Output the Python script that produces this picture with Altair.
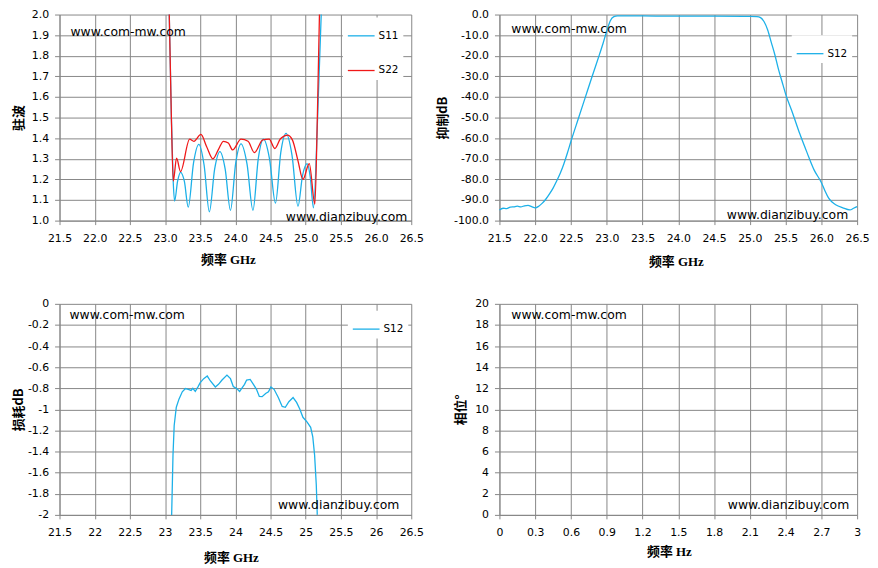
import altair as alt
import pandas as pd

# ---------------- data ----------------
# VSWR (top-left)
s11_freq = [23.06, 23.09, 23.115, 23.136, 23.178, 23.22, 23.275, 23.33, 23.405, 23.48,
            23.555, 23.63, 23.705, 23.78, 23.855, 23.93, 24.005, 24.08, 24.165, 24.25,
            24.325, 24.40, 24.485, 24.57, 24.645, 24.72, 24.805, 24.89, 24.955, 25.02,
            25.065, 25.11, 25.17, 25.22]
s11_vswr = [2.0, 1.5, 1.2, 1.095, 1.19, 1.234, 1.19, 1.065, 1.28, 1.37,
            1.27, 1.043, 1.25, 1.335, 1.25, 1.05, 1.28, 1.372, 1.275, 1.05,
            1.30, 1.395, 1.30, 1.085, 1.33, 1.423, 1.317, 1.07, 1.22, 1.277,
            1.21, 1.062, 1.51, 2.0]
s22_freq = [23.06, 23.09, 23.117, 23.164, 23.22, 23.35, 23.41, 23.51, 23.59, 23.68,
            23.76, 23.83, 23.90, 23.96, 24.08, 24.18, 24.27, 24.39, 24.48, 24.56,
            24.64, 24.74, 24.81, 24.89, 24.96, 25.05, 25.13, 25.165, 25.195]
s22_vswr = [2.0, 1.5, 1.192, 1.303, 1.238, 1.395, 1.385, 1.418, 1.36, 1.30,
            1.346, 1.385, 1.377, 1.343, 1.395, 1.385, 1.33, 1.392, 1.395, 1.35,
            1.397, 1.415, 1.392, 1.29, 1.20, 1.277, 1.08, 1.5, 2.0]

# Rejection (top-right)
rej_freq = [21.5, 21.55, 21.6, 21.65, 21.7, 21.75, 21.8, 21.85, 21.9, 21.95,
            22.0, 22.05, 22.1, 22.15, 22.2, 22.25, 22.3, 22.35, 22.4, 22.45,
            22.5, 22.6, 22.7, 22.8, 22.9, 22.95, 23.0, 23.05, 23.1, 23.15,
            23.2, 23.5, 24.0, 24.5, 25.0, 25.1, 25.15, 25.2, 25.25, 25.3,
            25.35, 25.4, 25.45, 25.5, 25.6, 25.7, 25.8, 25.9, 26.0, 26.05,
            26.1, 26.15, 26.2, 26.3, 26.4, 26.45, 26.5]
rej_db = [-94.8, -94.0, -94.2, -93.5, -93.3, -93.0, -93.3, -92.8, -92.6, -93.2,
          -93.8, -93.0, -91.5, -89.5, -87.0, -84.2, -80.8, -77.0, -72.5, -67.2,
          -61.5, -50.8, -40.2, -29.6, -19.2, -13.8, -8.0, -3.0, -1.0, -0.6,
          -0.6, -0.7, -0.8, -0.8, -0.9, -1.0, -1.5, -3.5, -7.5, -13.5,
          -19.5, -26.5, -32.5, -38.5, -48.0, -58.0, -67.0, -75.5, -81.5, -85.5,
          -89.0, -91.0, -92.3, -93.8, -94.8, -94.0, -93.2]

# Insertion loss (bottom-left)
il_freq = [23.094, 23.113, 23.13, 23.16, 23.198, 23.245, 23.29, 23.33, 23.37, 23.395,
           23.43, 23.47, 23.50, 23.55, 23.60, 23.645, 23.715, 23.76, 23.81, 23.88,
           23.93, 23.97, 24.02, 24.06, 24.09, 24.13, 24.16, 24.21, 24.256, 24.30,
           24.34, 24.38, 24.43, 24.47, 24.505, 24.55, 24.61, 24.665, 24.71, 24.76,
           24.82, 24.87, 24.915, 24.96, 25.02, 25.07, 25.10, 25.126, 25.15, 25.164]
il_db = [-2.0, -1.434, -1.153, -0.98, -0.903, -0.834, -0.803, -0.81, -0.82, -0.80,
         -0.83, -0.784, -0.747, -0.709, -0.684, -0.731, -0.788, -0.763, -0.722, -0.675,
         -0.709, -0.784, -0.803, -0.83, -0.80, -0.763, -0.722, -0.716, -0.763, -0.81,
         -0.878, -0.88, -0.85, -0.834, -0.788, -0.81, -0.888, -0.972, -0.98, -0.928,
         -0.888, -0.934, -0.997, -1.075, -1.12, -1.17, -1.26, -1.434, -1.716, -2.0]

# Phase (bottom-right) : no data
phase_freq = []
phase_deg = []

# tick values
ghz_ticks = [21.5, 22.0, 22.5, 23.0, 23.5, 24.0, 24.5, 25.0, 25.5, 26.0, 26.5]
vswr_ticks = [1.0, 1.1, 1.2, 1.3, 1.4, 1.5, 1.6, 1.7, 1.8, 1.9, 2.0]
rej_ticks = [0, -10, -20, -30, -40, -50, -60, -70, -80, -90, -100]
il_ticks = [0, -0.2, -0.4, -0.6, -0.8, -1.0, -1.2, -1.4, -1.6, -1.8, -2.0]
hz_ticks = [0, 0.3, 0.6, 0.9, 1.2, 1.5, 1.8, 2.1, 2.4, 2.7, 3]
deg_ticks = [0, 2, 4, 6, 8, 10, 12, 14, 16, 18, 20]

watermark_top = ["www.com-mw.com"]
watermark_bottom = ["www.dianzibuy.com"]

# ---------------- style ----------------
BLUE = "#1CB0E8"
RED = "#F01818"
GRID = "#878787"
LABEL_FONT = "DejaVu Sans"
CJK = "Noto Sans CJK SC"
XTITLE_FONT = "Liberation Serif, Noto Sans CJK SC"
MINUS = "replace(datum.label, '\u2212', '-')"

W1, W2 = 355, 361
H1, H2 = 208, 213


def xaxis(values, fmt, title, tx, ty):
    return alt.Axis(values=values, format=fmt, title=title, titleX=tx, titleY=ty,
                    titleBaseline="middle", titleAlign="center", tickSize=4,
                    titleFont=XTITLE_FONT,
                    labelPadding=8, labelFlush=False, labelOverlap=False,
                    labelExpr=MINUS)


def yaxis(values, fmt, title, tx):
    return alt.Axis(values=values, format=fmt, title=title, titleX=tx,
                    titleAngle=270, titleBaseline="bottom", titleAlign="center",
                    tickSize=5, labelPadding=6, labelOverlap=False, labelExpr=MINUS)


def legend(lx, ly):
    return alt.Legend(orient="none", legendX=lx, legendY=ly, fillColor="white",
                      padding=4, symbolType="stroke", symbolSize=729,
                      symbolStrokeWidth=1.3, labelFont=LABEL_FONT, labelFontSize=10.5,
                      labelColor="black", labelOffset=3, rowPadding=15, title=None)


def marks(w, h, tx, ty, bx, by):
    top = alt.Chart(pd.DataFrame({"t": watermark_top})).mark_text(
        font=LABEL_FONT, fontSize=12.5, color="black", align="left", baseline="middle"
    ).encode(text="t:N", x=alt.value(tx), y=alt.value(ty))
    bot = alt.Chart(pd.DataFrame({"t": watermark_bottom})).mark_text(
        font=LABEL_FONT, fontSize=12.5, color="black", align="right", baseline="middle"
    ).encode(text="t:N", x=alt.value(w - bx), y=alt.value(h - by))
    return top, bot


# top-left: VSWR
df_vswr = pd.concat([
    pd.DataFrame({"freq": s11_freq, "val": s11_vswr, "series": "S11"}),
    pd.DataFrame({"freq": s22_freq, "val": s22_vswr, "series": "S22"}),
])
tl_line = alt.Chart(df_vswr).mark_line(interpolate="monotone", strokeWidth=1.3).encode(
    x=alt.X("freq:Q", scale=alt.Scale(domain=[21.5, 26.5], nice=False, zero=False),
            axis=xaxis(ghz_ticks, ".1f", "频率 GHz", 170, 39)),
    y=alt.Y("val:Q", scale=alt.Scale(domain=[1.0, 2.0], nice=False, zero=False),
            axis=yaxis(vswr_ticks, ".1f", "驻波", -34)),
    color=alt.Color("series:N", scale=alt.Scale(domain=["S11", "S22"], range=[BLUE, RED]),
                    legend=legend(286, 3)),
)
tl = alt.layer(tl_line, *marks(W1, H1, 11, 17.5, 4, 4)).properties(width=W1, height=H1)

# top-right: rejection
df_rej = pd.DataFrame({"freq": rej_freq, "val": rej_db, "series": "S12"})
tr_line = alt.Chart(df_rej).mark_line(interpolate="monotone", strokeWidth=1.3).encode(
    x=alt.X("freq:Q", scale=alt.Scale(domain=[21.5, 26.5], nice=False, zero=False),
            axis=xaxis(ghz_ticks, ".1f", "频率 GHz", 178, 41)),
    y=alt.Y("val:Q", scale=alt.Scale(domain=[-100, 0], nice=False, zero=False),
            axis=yaxis(rej_ticks, ".1f", "抑制dB", -50)),
    color=alt.Color("series:N", scale=alt.Scale(domain=["S12"], range=[BLUE]),
                    legend=legend(295, 21)),
)
tr = alt.layer(tr_line, *marks(W2, H1, 12, 14.6, 9, 6)).properties(width=W2, height=H1)

# bottom-left: insertion loss
df_il = pd.DataFrame({"freq": il_freq, "val": il_db, "series": "S12"})
bl_line = alt.Chart(df_il).mark_line(strokeWidth=1.3).encode(
    x=alt.X("freq:Q", scale=alt.Scale(domain=[21.5, 26.5], nice=False, zero=False),
            axis=xaxis(ghz_ticks, "~g", "频率 GHz", 173, 43)),
    y=alt.Y("val:Q", scale=alt.Scale(domain=[-2, 0], nice=False, zero=False),
            axis=yaxis(il_ticks, "~g", "损耗dB", -34)),
    color=alt.Color("series:N", scale=alt.Scale(domain=["S12"], range=[BLUE]),
                    legend=legend(291, 7)),
)
bl = alt.layer(bl_line, *marks(W1, H2, 10, 11, 12, 10)).properties(width=W1, height=H2)

# bottom-right: phase (empty)
df_ph = pd.DataFrame({"freq": pd.Series(phase_freq, dtype=float),
                      "val": pd.Series(phase_deg, dtype=float)})
br_line = alt.Chart(df_ph).mark_line(strokeWidth=1.3, color=BLUE).encode(
    x=alt.X("freq:Q", scale=alt.Scale(domain=[0, 3], nice=False, zero=False),
            axis=xaxis(hz_ticks, "~g", "频率 Hz", 171, 37)),
    y=alt.Y("val:Q", scale=alt.Scale(domain=[0, 20], nice=False, zero=False),
            axis=yaxis(deg_ticks, "~g", "相位°", -32)),
)
br = alt.layer(br_line, *marks(W2, H2, 12, 11, 8, 10)).properties(width=W2, height=H2)

chart = alt.concat(tl, tr, bl, br, columns=2, spacing={"row": 84, "column": 89},
                   bounds="flush").resolve_scale(color="independent").resolve_legend(
    color="independent"
).properties(
    padding={"left": 4, "top": -3, "right": 0, "bottom": 0}, background="white"
).configure_view(stroke="transparent").configure_axis(
    grid=True, gridColor=GRID, gridWidth=1, domainColor=GRID, tickColor=GRID,
    labelFont=LABEL_FONT, labelFontSize=11, labelColor="black",
    titleFont=CJK, titleFontSize=13, titleFontWeight="bold", titleColor="black",
)

chart.save("out.html", embed_options={"renderer": "svg", "actions": False})
